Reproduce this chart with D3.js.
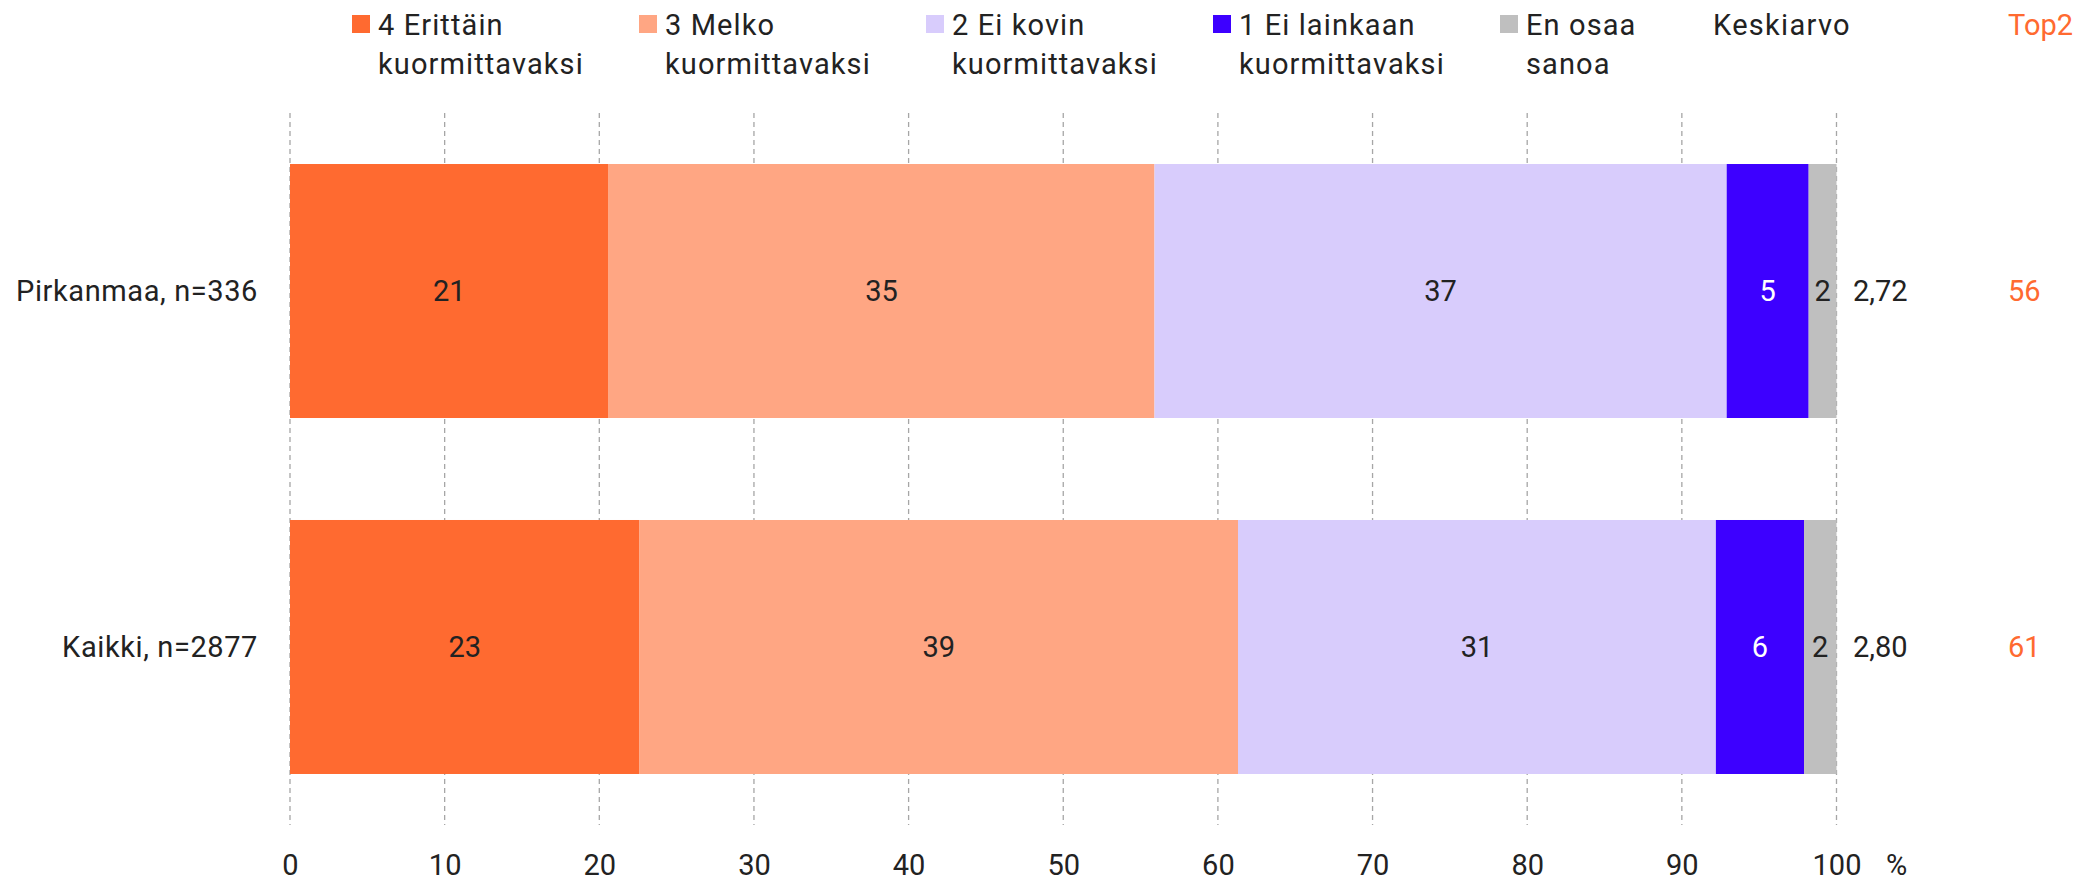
<!DOCTYPE html>
<html lang="fi">
<head>
<meta charset="utf-8">
<title>Kuormittavuus</title>
<script src="https://cdn.jsdelivr.net/npm/d3@7"></script>
<style>
  html, body { margin: 0; padding: 0; background: #fff; }
  svg { display: block; font-family: Roboto, "Noto Sans", sans-serif; }
</style>
</head>
<body>
<svg id="chart" width="2093" height="882"></svg>
<script>
// Vastaajaryhmät
const categories = ["Pirkanmaa, n=336", "Kaikki, n=2877"];

// Vastausvaihtoehdot (legendan rivit)
const seriesNames = [
  ["4 Erittäin", "kuormittavaksi"],
  ["3 Melko", "kuormittavaksi"],
  ["2 Ei kovin", "kuormittavaksi"],
  ["1 Ei lainkaan", "kuormittavaksi"],
  ["En osaa", "sanoa"]
];
const seriesKeys = ["s4", "s3", "s2", "s1", "eos"];

// Osuudet prosentteina, yksi taulukko per vastausvaihtoehto
const erittain   = [20.6, 22.6];
const melko      = [35.3, 38.7];
const eiKovin    = [37.0, 30.9];
const eiLainkaan = [5.3, 5.7];
const enOsaa     = [1.8, 2.1];

// Keskiarvot
const keskiarvo = [2.72, 2.80];

// x-akselin jakoviivat
const ticks = [0, 10, 20, 30, 40, 50, 60, 70, 80, 90, 100];

const colors = ["#FF6A30", "#FFA683", "#D8CCFC", "#3D00FF", "#BFBFBF"];
const labelColors = ["#222", "#222", "#222", "#fff", "#222"];
const textColor = "#222";
const top2Color = "#FF6A30";
const fontSize = 29;

const rows = categories.map((c, i) => ({
  category: c,
  s4: erittain[i],
  s3: melko[i],
  s2: eiKovin[i],
  s1: eiLainkaan[i],
  eos: enOsaa[i],
  mean: keskiarvo[i]
}));

const stacked = d3.stack().keys(seriesKeys)(rows);

const svg = d3.select("#chart");

const x = d3.scaleLinear().domain([0, 100]).range([290, 1836.5]);
const y = d3.scaleBand()
  .domain(categories)
  .range([113, 825])
  .paddingInner(0.2865)
  .paddingOuter(0.1433);

// Pystysuorat katkoviivat
svg.append("g")
  .selectAll("line")
  .data(ticks)
  .join("line")
  .attr("x1", d => x(d))
  .attr("x2", d => x(d))
  .attr("y1", y.range()[0])
  .attr("y2", y.range()[1])
  .attr("stroke", "#A6A6A6")
  .attr("stroke-width", 1.3)
  .attr("stroke-dasharray", "5,4");

// x-akseli
const xAxis = svg.append("g")
  .attr("transform", `translate(0,${y.range()[1]})`)
  .call(d3.axisBottom(x).tickValues(ticks).tickSize(0).tickPadding(0).tickFormat(d3.format("d")));
xAxis.select(".domain").remove();
xAxis.selectAll("text")
  .attr("y", 50)
  .attr("dy", 0)
  .attr("font-family", "Roboto, sans-serif")
  .attr("font-size", fontSize)
  .attr("fill", textColor);

svg.append("text")
  .attr("x", x(100) + 60)
  .attr("y", 875)
  .attr("text-anchor", "middle")
  .attr("font-size", fontSize)
  .attr("fill", textColor)
  .text("%");

// Pinotut palkit
const layers = svg.append("g")
  .selectAll("g")
  .data(stacked)
  .join("g")
  .attr("fill", (d, i) => colors[i]);

layers.selectAll("rect")
  .data(d => d)
  .join("rect")
  .attr("x", d => x(d[0]))
  .attr("y", d => y(d.data.category))
  .attr("width", d => x(d[1]) - x(d[0]))
  .attr("height", y.bandwidth());

// Arvot palkkien sisällä
const valueLayers = svg.append("g")
  .selectAll("g")
  .data(stacked)
  .join("g")
  .attr("fill", (d, i) => labelColors[i]);

valueLayers.selectAll("text")
  .data(d => d)
  .join("text")
  .attr("x", d => (x(d[0]) + x(d[1])) / 2)
  .attr("y", d => y(d.data.category) + y.bandwidth() / 2)
  .attr("dy", "0.36em")
  .attr("text-anchor", "middle")
  .attr("font-size", fontSize)
  .text(d => Math.round(d[1] - d[0]));

// Ryhmien nimet
svg.append("g")
  .selectAll("text")
  .data(categories)
  .join("text")
  .attr("x", 258)
  .attr("y", d => y(d) + y.bandwidth() / 2)
  .attr("dy", "0.36em")
  .attr("text-anchor", "end")
  .attr("font-size", fontSize)
  .attr("letter-spacing", 0.6)
  .attr("fill", textColor)
  .text(d => d);

// Keskiarvot
const fmtMean = v => d3.format(".2f")(v).replace(".", ",");
svg.append("g")
  .selectAll("text")
  .data(rows)
  .join("text")
  .attr("x", 1853)
  .attr("y", d => y(d.category) + y.bandwidth() / 2)
  .attr("dy", "0.36em")
  .attr("font-size", fontSize)
  .attr("fill", textColor)
  .text(d => fmtMean(d.mean));

// Top2 = kahden ylimmän vaihtoehdon summa
svg.append("g")
  .selectAll("text")
  .data(rows)
  .join("text")
  .attr("x", 2008)
  .attr("y", d => y(d.category) + y.bandwidth() / 2)
  .attr("dy", "0.36em")
  .attr("font-size", fontSize)
  .attr("fill", top2Color)
  .text(d => Math.round(d.s4 + d.s3));

// Legenda
const legendX0 = 352, legendStep = 287;
const legend = svg.append("g")
  .selectAll("g")
  .data(seriesNames)
  .join("g")
  .attr("transform", (d, i) => `translate(${legendX0 + i * legendStep},0)`);

legend.append("rect")
  .attr("x", 0)
  .attr("y", 15)
  .attr("width", 18)
  .attr("height", 18)
  .attr("fill", (d, i) => colors[i]);

legend.append("text")
  .attr("font-size", fontSize)
  .attr("letter-spacing", 1.1)
  .attr("fill", textColor)
  .selectAll("tspan")
  .data(d => d)
  .join("tspan")
  .attr("x", 26)
  .attr("y", (d, i) => 35 + i * 39)
  .text(d => d);

svg.append("text")
  .attr("x", 1713)
  .attr("y", 35)
  .attr("font-size", fontSize)
  .attr("letter-spacing", 1.3)
  .attr("fill", textColor)
  .text("Keskiarvo");

svg.append("text")
  .attr("x", 2008)
  .attr("y", 35)
  .attr("font-size", fontSize)
  .attr("fill", top2Color)
  .text("Top2");
</script>
</body>
</html>
